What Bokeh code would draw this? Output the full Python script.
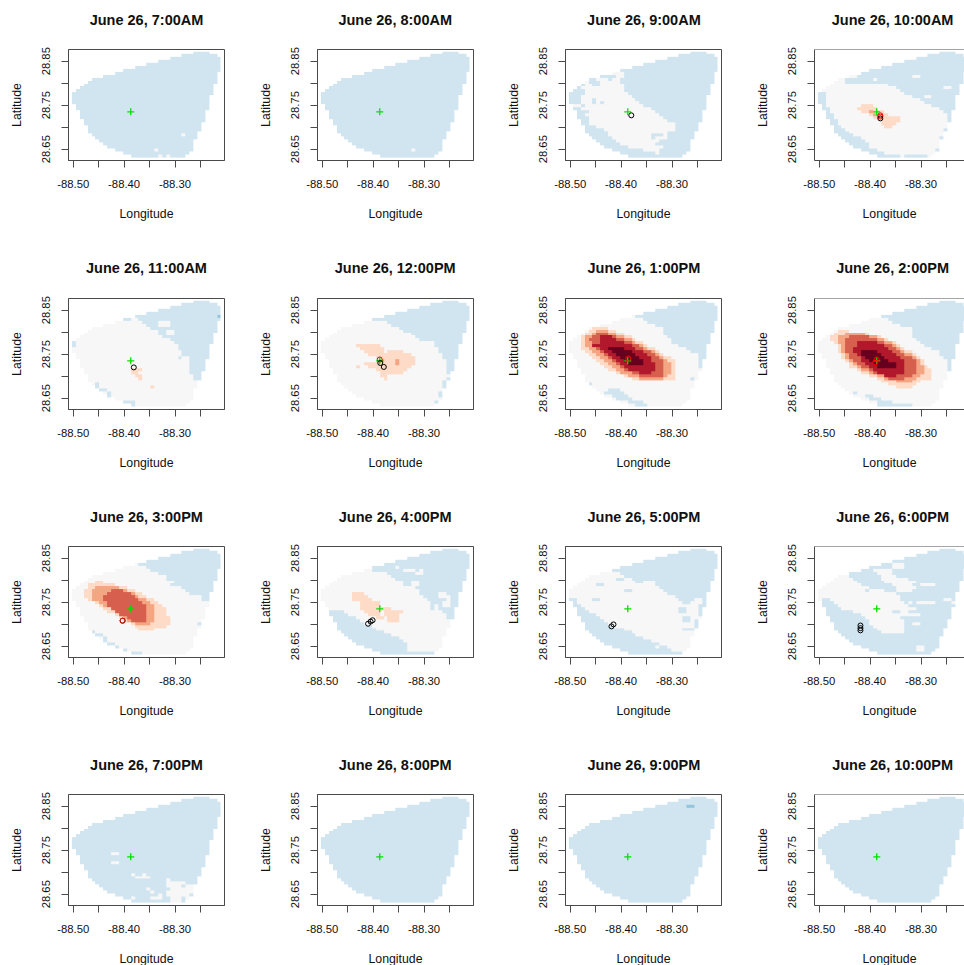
import numpy as np
from bokeh.plotting import figure
from bokeh.layouts import column, row
from bokeh.models import LinearColorMapper, FixedTicker, Range1d, Span
from bokeh.core.properties import value
from bokeh.embed import file_html
from bokeh.resources import INLINE

TITLES = ["June 26, 7:00AM", "June 26, 8:00AM", "June 26, 9:00AM", "June 26, 10:00AM",
          "June 26, 11:00AM", "June 26, 12:00PM", "June 26, 1:00PM", "June 26, 2:00PM",
          "June 26, 3:00PM", "June 26, 4:00PM", "June 26, 5:00PM", "June 26, 6:00PM",
          "June 26, 7:00PM", "June 26, 8:00PM", "June 26, 9:00PM", "June 26, 10:00PM"]
X_TICKS = [-88.50, -88.45, -88.40, -88.35, -88.30, -88.25]
X_LABELS = ["-88.50", "", "-88.40", "", "-88.30", ""]
Y_TICKS = [28.65, 28.70, 28.75, 28.80, 28.85]
Y_LABELS = ["28.65", "", "28.75", "", "28.85"]
LEVEL_COLORS = ["#D1E5F0", "#F7F7F7", "#FDDBC7", "#F4A582", "#D6604D", "#B2182B", "#67001F", "#92C5DE"]
RELEASE_LON, RELEASE_LAT = -88.387, 28.735

# model grid: first cell edge and cell size in degrees
LON0, DLON, LAT_TOP, DLAT = -88.50256, 0.00768, 28.8714, 0.00668
N_COLS, N_ROWS = 38, 36

# footprint of the model domain, row by row from the north: first and last column
FOOTPRINT = [(31,34),(28,36),(25,37),(22,37),(19,37),(16,37),(13,37),(11,36),(8,36),(5,36),
             (4,36),(3,35),(2,35),(1,35),(0,35),(0,34),(0,34),(0,34),(1,34),(1,34),
             (2,33),(2,33),(2,33),(3,33),(3,32),(4,32),(4,32),(4,31),(5,31),(6,31),
             (7,30),(8,30),(9,30),(11,30),(13,29),(15,28)]
ALL = [(r, 0, 37) for r in range(N_ROWS)]

G_0700 = [(28,28,28),(33,21,21),(35,22,22),(35,24,24)]
G_0800 = [(33,23,23)]
G_0900 = [(7,11,13),(8,12,13),(9,7,9),(9,11,12),(10,4,4),(10,8,12),(11,4,5),(11,8,13),(12,3,13),(13,4,13),
          (14,4,14),(15,3,15),(16,3,5),(16,7,16),(17,3,5),(17,7,7),(17,9,17),(18,1,2),(18,4,18),(19,3,20),
          (20,5,21),(21,4,22),(22,5,23),(23,5,24),(24,5,26),(25,7,26),(26,9,26),(27,10,24),(28,10,20),(28,24,24),
          (29,11,20),(29,22,24),(30,12,22),(31,13,21),(32,15,23),(33,19,22),(34,22,22)]
G_1000 = [(8,8,9),(9,5,6),(10,4,6),(11,3,17),(12,2,19),(13,1,20),(14,2,21),(15,2,23),(16,2,25),(17,2,26),
          (18,2,28),(19,3,30),(20,3,31),(21,4,32),(22,4,32),(23,5,32),(24,5,32),(25,6,32),(26,7,31),(27,8,31),
          (28,9,31),(29,11,30),(30,12,30),(31,13,30),(32,13,30),(33,15,29),(34,17,29),(35,21,21),(35,28,28),
          (9,14,14),(8,24,25),(12,32,33),(15,27,28)]
S_1000 = [(18,11,13),(19,10,14),(20,11,16),(21,13,17),(22,14,20),(23,16,20),(24,16,19),(25,17,18)]
T_1000 = [(20,13,13),(21,14,14)]
B_1100 = [(0,0,37),(1,0,37),(2,0,37),(3,0,37),(4,0,37),(5,16,37),(6,17,37),(7,18,37),(8,19,37),(9,20,37),
          (10,22,37),(11,22,37),(12,23,37),(13,25,37),(14,26,37),(15,27,37),(16,27,37),(17,28,37),(18,28,37),(19,30,37),
          (20,30,37),(21,30,37),(22,30,37),(23,30,37),(24,30,37),(25,31,37),(26,31,37),
          (6,13,14),(19,27,27),(14,0,0),(15,0,0),(28,6,6),(29,6,6),(30,7,8),(31,9,9),(32,9,9),(34,13,15),(35,13,15)]
G_1100 = [(7,22,24),(8,22,24),(10,24,25),(11,24,25)]
S_1100 = [(23,15,17),(24,15,16),(25,16,17),(26,17,17),(29,20,20)]
D_1100 = [(5,37,37)]
B_1200 = [(0,0,37),(1,0,37),(2,0,37),(3,0,37),(4,0,37),(5,16,37),(6,13,37),(7,17,37),(8,18,37),(9,20,37),
          (10,21,37),(11,23,37),(12,24,37),(13,25,37),(14,29,37),(15,29,37),(16,30,37),(17,30,37),(18,31,37),(19,31,37),
          (20,32,37),(21,32,37),(22,32,37),(23,32,37),(24,32,32),(26,32,32),(27,31,32),(28,31,32),(29,31,32),(31,30,30),(32,30,30),(34,29,29)]
S_1200 = [(15,9,14),(16,10,15),(17,11,15),(17,17,20),(18,12,22),(19,14,23),(20,14,23),(21,11,23),(22,9,9),(22,12,22),
          (23,14,21),(24,15,17),(24,18,20),(25,15,16),(26,16,16)]
T_1200 = [(20,19,19),(21,19,19),(20,15,15)]
B_1300 = [(0,0,37),(1,0,37),(2,0,37),(3,0,37),(4,0,37),(5,17,37),(6,19,37),(7,20,37),(8,22,37),(9,24,37),
          (10,24,37),(11,24,37),(12,25,37),(13,26,37),(14,26,37),(15,28,37),(16,30,37),(17,31,37),(18,33,37),(19,33,37),
          (20,33,37),(21,33,37),(22,33,37),(26,31,31),(28,5,5),(30,10,12),(31,9,13),(32,11,14),(33,12,15),(34,15,18),(35,17,19)]
S_1300 = [(9,6,9),(10,5,11),(11,4,13),(12,3,15),(13,3,16),(14,3,18),(15,3,19),(16,3,21),(17,4,22),(18,5,23),
          (19,6,25),(20,7,26),(21,8,26),(22,9,26),(23,10,26),(24,12,26),(25,14,26),(26,16,26)]
T_1300 = [(10,7,9),(11,6,11),(12,4,13),(13,4,15),(14,4,16),(15,4,18),(16,5,19),(17,6,21),(18,7,22),(19,8,23),
          (20,9,24),(21,10,25),(22,11,25),(23,12,25),(24,13,25),(25,15,24),(26,18,23)]
U_1300 = [(11,7,9),(12,6,11),(13,5,13),(14,6,15),(15,6,17),(16,7,18),(17,8,20),(18,9,21),(19,10,22),(20,11,23),
          (21,12,23),(22,13,23),(23,14,23),(24,16,23),(25,18,23)]
V_1300 = [(12,8,10),(13,8,11),(14,8,13),(15,6,15),(16,8,16),(17,9,18),(18,10,19),(19,11,20),(20,12,20),(21,13,21),
          (22,14,21),(23,15,21),(24,18,20)]
W_1300 = [(16,10,13),(17,11,15),(18,12,16),(19,13,17),(20,14,18),(21,15,18)]
B_1400 = [(0,0,37),(1,0,37),(2,0,37),(3,0,37),(4,0,37),(5,16,37),(6,18,37),(7,19,37),(8,21,37),(9,24,37),
          (10,24,37),(11,24,37),(12,24,37),(13,25,37),(14,26,37),(15,27,37),(16,29,37),(17,31,37),(18,31,37),(19,32,37),
          (20,33,37),(21,33,37),(22,33,37),(23,33,37),(31,9,9),(32,12,13),(33,13,15),(34,15,18),(35,15,23)]
S_1400 = [(10,5,7),(11,4,12),(12,3,15),(13,3,17),(14,4,19),(15,5,20),(16,5,21),(17,5,23),(18,6,24),(19,6,25),
          (20,7,26),(21,8,26),(22,8,27),(23,10,28),(24,11,28),(25,13,28),(26,15,28),(27,16,25),(28,18,24),(29,20,23)]
T_1400 = [(11,7,11),(12,5,14),(13,5,16),(14,5,18),(15,6,19),(16,6,20),(17,6,21),(18,7,23),(19,7,24),(20,8,25),
          (21,9,25),(22,10,26),(23,11,26),(24,13,26),(25,15,25),(26,17,24),(27,20,23)]
U_1400 = [(12,8,12),(13,7,14),(14,7,16),(15,7,18),(16,7,19),(17,7,20),(18,8,21),(19,8,23),(20,9,24),(21,10,24),
          (22,11,24),(23,13,24),(24,14,24),(25,17,23),(26,18,21)]
V_1400 = [(14,10,14),(15,10,16),(16,9,17),(17,9,18),(18,10,19),(19,11,20),(20,11,21),(21,12,21),(22,13,21),(23,14,21),
          (24,15,21),(25,17,19)]
W_1400 = [(17,11,14),(18,11,15),(19,12,16),(20,13,17),(21,14,19),(22,15,19)]
B_1500 = [(0,0,37),(1,0,37),(2,0,37),(3,0,37),(4,0,37),(5,17,37),(6,19,37),(7,20,37),(8,22,37),(9,24,37),
          (10,24,37),(11,26,37),(12,25,37),(13,28,37),(14,29,37),(15,30,34),(16,33,34),(17,33,34),
          (25,32,32),(28,5,5),(29,6,7),(30,8,8),(31,8,8),(32,9,10),(33,11,11),(34,13,13),(35,15,17)]
S_1500 = [(11,6,7),(12,4,10),(13,4,13),(14,3,15),(15,3,17),(16,3,18),(17,4,20),(18,6,21),(19,7,22),(20,8,23),
          (21,9,23),(22,11,23),(23,12,24),(24,13,24),(25,15,24),(26,16,23),(27,17,20)]
T_1500 = [(13,6,11),(14,5,13),(15,5,15),(16,5,16),(17,5,18),(18,7,19),(19,8,20),(20,10,20),(21,11,20),(22,12,20),
          (23,13,20),(24,14,20),(25,16,19)]
U_1500 = [(14,10,12),(15,9,14),(16,8,15),(17,8,16),(18,9,17),(19,9,18),(20,10,18),(21,11,18),(22,12,18),(23,14,18),(24,15,18)]
B_1600 = [(0,0,37),(1,0,37),(2,0,37),(3,0,37),(4,0,37),(5,16,37),(6,13,37),(7,13,37),(8,17,37),(9,18,37),
          (10,19,37),(11,21,37),(12,21,37),(13,24,37),(14,25,37),(15,25,37),(16,26,37),(17,27,37),(18,28,37),(19,28,37),
          (20,28,37),(21,31,37),(22,32,37),(23,32,33),
          (21,2,5),(22,2,6),(23,3,8),(24,3,9),(25,4,10),(26,4,12),(27,4,13),(28,5,15),(29,6,17),(30,7,19),
          (31,8,20),(32,9,21),(33,11,21),(34,13,21),(35,15,28)]
G_1600 = [(6,19,19),(7,21,23),(7,25,25),(8,24,25),(11,23,24),(12,23,24),(15,30,31),(16,30,31),(16,32,32),(17,32,32),
          (19,29,29),(20,29,29),(18,31,32),(19,31,32)]
S_1600 = [(15,8,10),(16,8,11),(17,8,12),(18,10,14),(19,10,14),(20,10,17),(21,11,14),(21,16,20),(22,12,14),(22,16,19),
          (23,14,15),(23,17,19),(24,17,19)]
B_1700 = [(0,0,37),(1,0,37),(2,0,37),(3,0,37),(4,0,37),(5,16,37),(6,13,37),(7,13,37),(8,13,37),(9,14,37),
          (10,16,37),(11,22,37),(12,22,37),(13,23,37),(14,24,37),(15,25,37),(16,27,37),(17,28,31),(17,34,34),(18,29,30),(18,34,34),
          (19,33,37),(20,33,37),(21,33,37),(22,33,37),
          (7,11,12),(10,12,13),(12,7,8),(14,14,15),(17,6,7),(11,17,18),(20,28,29),(21,28,29),(23,29,30),(24,29,30),
          (27,29,30),(24,32,32),(25,32,32),(26,32,32),(27,31,31),(30,31,31),
          (17,0,1),(18,1,1),(19,1,2),(20,2,3),(21,2,4),(22,2,6),(23,3,7),(24,3,8),(25,4,9),(26,4,10),
          (27,4,13),(28,5,15),(29,6,16),(30,7,18),(31,8,20),(32,9,22),(33,11,21),(33,23,24),(34,13,25),(35,15,28)]
G_1800 = [(5,19,21),(6,19,21),(7,14,18),(8,15,18),(9,5,7),(9,16,19),(10,4,8),(10,16,22),(11,3,9),(11,17,24),
          (12,2,10),(12,19,23),(12,26,29),(13,1,12),(13,20,24),(14,0,11),(14,13,16),(14,20,23),(15,0,19),(16,0,20),
          (17,0,0),(17,3,20),(17,32,33),(18,4,21),(18,23,23),(18,25,26),(18,27,29),(18,34,34),(19,5,22),(20,6,24),
          (21,9,18),(21,21,22),(22,11,25),(23,12,20),(24,13,21),(25,13,21),(25,24,25),(26,14,21),(27,15,21),(28,16,21),
          (33,25,26),(34,25,26)]
G_1900 = [(19,10,11),(22,10,11),(26,15,15),(27,16,19),(26,18,18),(31,19,19),(32,20,20),(33,22,22),(34,15,15),(34,20,22),
          (28,24,24),(29,24,28),(30,24,27),(30,29,30),(31,25,30),(32,24,30),(33,24,29),(34,25,27),(34,29,29),(35,25,27)]
D_2100 = [(3,30,31)]

# painting order per hour: (colour level, spans of row, first column, last column)
PANEL_LAYERS = [
    [(2, G_0700)], [(2, G_0800)], [(2, G_0900)],
    [(2, G_1000), (3, S_1000), (4, T_1000)],
    [(2, ALL), (1, B_1100), (2, G_1100), (3, S_1100), (8, D_1100)],
    [(2, ALL), (1, B_1200), (3, S_1200), (4, T_1200)],
    [(2, ALL), (1, B_1300), (3, S_1300), (4, T_1300), (5, U_1300), (6, V_1300), (7, W_1300)],
    [(2, ALL), (1, B_1400), (3, S_1400), (4, T_1400), (5, U_1400), (6, V_1400), (7, W_1400)],
    [(2, ALL), (1, B_1500), (3, S_1500), (4, T_1500), (5, U_1500)],
    [(2, ALL), (1, B_1600), (2, G_1600), (3, S_1600)],
    [(2, ALL), (1, B_1700)],
    [(2, G_1800)],
    [(2, G_1900)], [], [(8, D_2100)], [],
]
# tracked points per hour: lon, lat, colour
POINTS = [
    [], [], [(-88.380, 28.727, "black")],
    [(-88.380, 28.727, "#FF0000"), (-88.380, 28.724, "#FF0000"), (-88.380, 28.720, "black")],
    [(-88.381, 28.720, "black")],
    [(-88.387, 28.738, "#FF0000"), (-88.386, 28.730, "black"), (-88.379, 28.721, "black")],
    [(-88.386, 28.740, "#FF0000")],
    [(-88.390, 28.731, "#FF0000"), (-88.387, 28.738, "#FF0000")],
    [(-88.403, 28.708, "black"), (-88.403, 28.708, "#FF0000")],
    [(-88.410, 28.701, "black"), (-88.405, 28.706, "black"), (-88.401, 28.709, "black")],
    [(-88.419, 28.695, "black"), (-88.415, 28.6995, "black")],
    [(-88.419, 28.697, "black"), (-88.419, 28.691, "black"), (-88.419, 28.686, "black")],
    [], [], [], [],
]

X_START, X_END, Y_START, Y_END = -88.5093, -88.2028, 28.6243, 28.8766
X_END_CUT = -88.2146  # the last column is cut by the page edge


def build_grid(layers):
    g = np.full((N_ROWS, N_COLS), np.nan)
    mask = np.zeros((N_ROWS, N_COLS), dtype=bool)
    for r, (a, b) in enumerate(FOOTPRINT):
        mask[r, a:b + 1] = True
        g[r, a:b + 1] = 1
    for level, spans in layers:
        for r, a, b in spans:
            g[r, a:b + 1] = level
    g[~mask] = np.nan
    return g[::-1]


mapper = LinearColorMapper(palette=LEVEL_COLORS, low=1, high=9, nan_color="#00000000")
COL_W = [253, 248, 249, 214]
COL_L = [68, 64, 64, 64]
TITLE_X = [146, 394.7, 643.4, 892.1]
STRIP_H = [38, 30, 30, 30]
ROW_H = [214, 219, 218, 186]   # height of each row of panels under its strip of headings
ROW_T = [11, 16, 15, 15]
TXT = "#111111"
LINE = "#4a4a4a"
rows = []
for j in range(4):
    strip = figure(width=964, height=STRIP_H[j], x_range=Range1d(0, 964), y_range=Range1d(0, STRIP_H[j]),
                   x_axis_type=None, y_axis_type=None, toolbar_location=None, output_backend="svg", tools="",
                   min_border_left=0, min_border_right=0, min_border_top=0, min_border_bottom=0)
    strip.outline_line_color = None
    strip.grid.visible = False
    strip.text(TITLE_X, [STRIP_H[j] / 2 if j else STRIP_H[j] - 19] * 4, text=TITLES[j * 4:j * 4 + 4],
               text_align="center", text_baseline="middle", text_font=value("Liberation Sans"),
               text_font_size="14.5px", text_font_style="bold", text_color=TXT)
    rows.append(strip)
    figs = []
    for i in range(4):
        k = j * 4 + i
        last = i == 3
        fw = 150 if last else 156
        p = figure(width=COL_W[i], height=ROW_H[j], frame_width=fw, frame_height=111,
                   x_range=Range1d(X_START, X_END_CUT if last else X_END), y_range=Range1d(Y_START, Y_END),
                   toolbar_location=None, output_backend="svg", tools="",
                   min_border_left=COL_L[i], min_border_right=COL_W[i] - COL_L[i] - fw,
                   min_border_top=ROW_T[j], min_border_bottom=ROW_H[j] - 111 - ROW_T[j])
        p.grid.visible = False
        p.background_fill_color = "white"
        p.border_fill_color = "white"
        p.image(image=[build_grid(PANEL_LAYERS[k])], x=LON0, y=LAT_TOP - N_ROWS * DLAT,
                dw=N_COLS * DLON, dh=N_ROWS * DLAT, color_mapper=mapper)
        p.scatter([RELEASE_LON], [RELEASE_LAT], marker="cross", size=7, line_color="#00E000", line_width=1.3)
        for lon, lat, col in POINTS[k]:
            p.scatter([lon], [lat], marker="circle", size=5, fill_color=None, line_color=col, line_width=1)
        ax = p.xaxis[0]
        ax.ticker = FixedTicker(ticks=X_TICKS)
        ax.major_label_overrides = dict(zip(X_TICKS, X_LABELS))
        ay = p.yaxis[0]
        ay.ticker = FixedTicker(ticks=Y_TICKS)
        ay.major_label_overrides = dict(zip(Y_TICKS, Y_LABELS))
        ay.major_label_orientation = "vertical"
        ax.axis_label = "Longitude"
        ay.axis_label = "Latitude"
        for a, off, lab in ((ax, 12, 16), (ay, 11, 16)):
            a.major_tick_in = 0
            a.major_tick_out = 7
            a.minor_tick_line_color = None
            a.major_tick_line_color = LINE
            a.axis_line_color = LINE
            a.major_label_text_font = "Liberation Sans"
            a.major_label_text_font_size = "11.3px"
            a.major_label_text_color = TXT
            a.major_label_standoff = off
            a.axis_label_text_font = "Liberation Sans"
            a.axis_label_text_font_size = "12.3px"
            a.axis_label_text_font_style = "normal"
            a.axis_label_text_color = TXT
            a.axis_label_standoff = lab
        if last:
            p.outline_line_color = None
            p.add_layout(Span(location=Y_END, dimension="width", line_color=LINE, line_width=1))
        else:
            p.outline_line_color = LINE
            p.outline_line_width = 1
        figs.append(p)
    rows.append(row(*figs, spacing=0))
page = column(*rows, spacing=0)
open("out.html", "w").write(file_html(page, INLINE))
